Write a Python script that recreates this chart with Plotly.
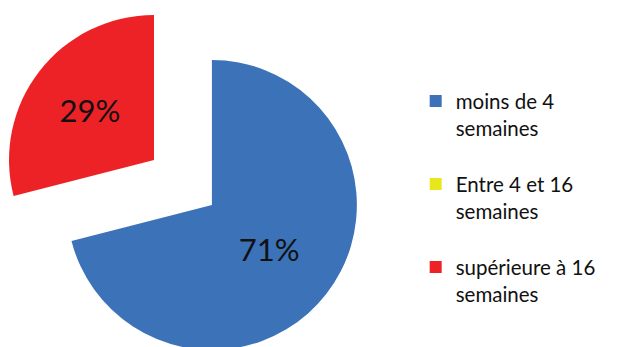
import plotly.graph_objects as go

# data
labels = ["moins de 4 semaines", "Entre 4 et 16 semaines", "supérieure à 16 semaines"]
legend_labels = ["moins de 4<br>semaines<br> ", "Entre 4 et 16<br>semaines<br> ", "supérieure à 16<br>semaines<br> "]
values = [71, 0, 29]

colors = ["#3b72b8", "#e8e61c", "#ec2227"]
font = "Lato, Open Sans, sans-serif"

fig = go.Figure()

# legend-only pie (tiny, hidden under the blue slice)
fig.add_trace(go.Pie(
    labels=legend_labels, values=values, sort=False, direction="clockwise",
    marker=dict(colors=colors, line=dict(width=0)),
    textinfo="none", hoverinfo="skip",
    domain=dict(x=[0.33, 0.335], y=[0.4, 0.41]),
))

# main pie: blue part (red slot left empty, yellow is 0)
fig.add_trace(go.Pie(
    labels=labels, values=values, sort=False, direction="clockwise",
    marker=dict(colors=[colors[0], colors[1], "rgba(0,0,0,0)"], line=dict(width=0)),
    texttemplate=["%{percent:.0%}", "", ""], textposition="inside",
    insidetextorientation="horizontal",
    textfont=dict(size=31, color="#111111", family=font),
    showlegend=False,
    domain=dict(x=[0.0921, 0.5451], y=[0.0144, 0.8504]),
))

# exploded red slice, same size, shifted up-left
fig.add_trace(go.Pie(
    labels=labels, values=values, sort=False, direction="clockwise",
    marker=dict(colors=["rgba(0,0,0,0)", "rgba(0,0,0,0)", colors[2]], line=dict(width=0)),
    texttemplate=["", "", "%{percent:.0%}"], textposition="inside",
    insidetextorientation="horizontal",
    textfont=dict(size=31, color="#111111", family=font),
    showlegend=False,
    domain=dict(x=[0.0016, 0.4547], y=[0.1441, 0.9798]),
))

fig.update_layout(
    width=640, height=347,
    margin=dict(t=0, l=0, r=0, b=0),
    paper_bgcolor="white",
    plot_bgcolor="white",
    font=dict(family=font, color="#111111"),
    legend=dict(
        x=0.637, y=0.789, xanchor="left", yanchor="top",
        valign="top", font=dict(size=20.5, color="#111111", family=font),
        bgcolor="rgba(0,0,0,0)",
    ),
)

fig.write_html("out.html")
